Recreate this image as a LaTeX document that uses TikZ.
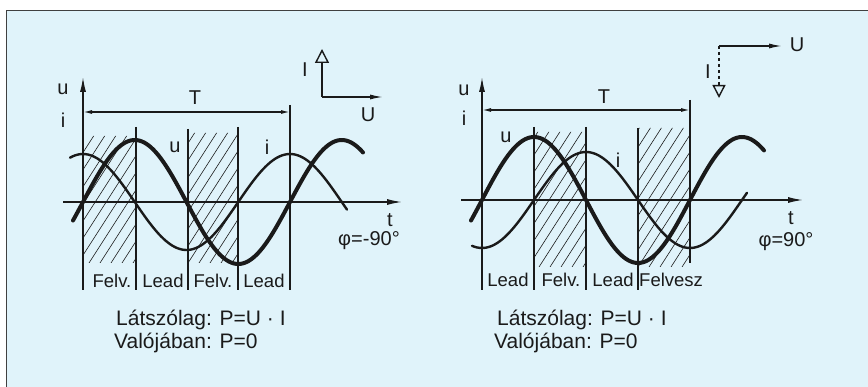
\documentclass[tikz,border=0pt]{standalone}
\usepackage{fontspec}
\setmainfont{Liberation Sans}
\usetikzlibrary{arrows.meta}
\definecolor{bgblue}{HTML}{E0F3FA}
\definecolor{ink}{HTML}{1A1A1A}

\begin{document}
\begin{tikzpicture}[x=1pt,y=-1pt,
  axis/.style={line width=1.9pt, draw=ink, -{Latex[length=16pt,width=6pt]}},
  ucurve/.style={line width=4pt, draw=ink, line cap=round},
  icurve/.style={line width=2.4pt, draw=ink, line cap=round},
  divider/.style={line width=1.2pt, draw=ink},
  hatch/.style={line width=0.6pt, draw=ink},
  dim/.style={line width=1.3pt, draw=ink, {Latex[length=9pt,width=4pt]}-{Latex[length=9pt,width=4pt]}},
  phasor/.style={line width=1.4pt, draw=ink},
  lbl/.style={font=\fontsize{20}{23}\selectfont, text=ink, inner sep=0pt},
  zone/.style={font=\fontsize{18.5}{21}\selectfont, text=ink, inner sep=0pt},
  note/.style={font=\fontsize{21}{24}\selectfont, text=ink, inner sep=0pt, anchor=west}
]
\useasboundingbox (0,0) rectangle (868,387);
\fill[bgblue] (6,10) rectangle (868,387);
\draw[line width=1.5pt, draw=black!75] (6.5,387) -- (6.5,10.5) -- (868,10.5);

% left panel, phi = -90
\begin{scope}
\clip (83,136) rectangle (136,263) (188,133) rectangle (238,263);
\foreach \k in {-10,1,...,240} \draw[hatch] (\k,263) -- ++(90,-140);
\end{scope}

\coordinate (oL) at (83,202);
\coordinate (yLb) at (83,290);
\coordinate (yLt) at (83,76);
\coordinate (tLa) at (63,202);
\coordinate (tLb) at (403,202);
\coordinate (TLa) at (83,112);
\coordinate (TLb) at (290,112);

\draw[divider] (136,127) -- (136,290);
\draw[divider] (188,129) -- (188,290);
\draw[divider] (238,127) -- (238,290);
\draw[divider] (290,105) -- (290,290);

\draw[icurve] plot[domain=70:347, samples=120] (\x,{202-48*cos((\x-83)/207*360)});
\draw[ucurve] plot[domain=73:363, samples=120] (\x,{202-62*sin((\x-83)/207*360)});

\draw[axis] (tLa) -- (tLb);
\draw[axis] (yLb) -- (yLt);
\draw[dim] (TLa) -- (TLb);

\node[lbl] (uL) at (63,89) {u};
\node[lbl] (iL) at (63,120) {i};
\node[lbl] (TL) at (195,98) {T};
\node[lbl] (uLc) at (175,147) {u};
\node[lbl] (iLc) at (267,147) {i};
\node[lbl] (tL) at (390,220) {t};
\node[lbl] (phiL) at (369,241) {φ=-90°};

\coordinate (pL) at (322,97);
\coordinate (pLu) at (383,97);
\coordinate (pLi) at (322,49);
\draw[phasor, -{Latex[length=13pt,width=5pt]}] (pL) -- (pLu);
\draw[phasor, -{Triangle[open,length=14pt,width=14pt]}] (pL) -- (pLi);
\node[lbl] (IL) at (305,70) {I};
\node[lbl] (UL) at (368,115) {U};

\node[zone] (zL1) at (112,281) {Felv.};
\node[zone] (zL2) at (163,281) {Lead};
\node[zone] (zL3) at (213,281) {Felv.};
\node[zone] (zL4) at (264,281) {Lead};

\node[note] (aL) at (116,320) {Látszólag: P=U · I};
\node[note] (bL) at (114,343) {Valójában: P=0};

% right panel, phi = 90
\begin{scope}
\clip (534,132) rectangle (586,267) (638,128) rectangle (690,267);
\foreach \k in {440,451,...,700} \draw[hatch] (\k,267) -- ++(90,-140);
\end{scope}

\coordinate (oR) at (482,200);
\coordinate (yRb) at (482,290);
\coordinate (yRt) at (482,76);
\coordinate (tRa) at (461,200);
\coordinate (tRb) at (804,200);
\coordinate (TRa) at (482,110);
\coordinate (TRb) at (690,110);

\draw[divider] (534,127) -- (534,290);
\draw[divider] (586,127) -- (586,290);
\draw[divider] (638,128) -- (638,290);
\draw[divider] (690,100) -- (690,263);

\draw[icurve] plot[domain=472:747, samples=120] (\x,{200+48*cos((\x-482)/208*360)});
\draw[ucurve] plot[domain=471:764, samples=120] (\x,{200-63*sin((\x-482)/208*360)});

\draw[axis] (tRa) -- (tRb);
\draw[axis] (yRb) -- (yRt);
\draw[dim] (TRa) -- (TRb);

\node[lbl] (uR) at (464,90) {u};
\node[lbl] (iR) at (464,118) {i};
\node[lbl] (TR) at (604,97) {T};
\node[lbl] (uRc) at (506,137) {u};
\node[lbl] (iRc) at (618,160) {i};
\node[lbl] (tR) at (791,218) {t};
\node[lbl] (phiR) at (786,242) {φ=90°};

\coordinate (pR) at (719,46);
\coordinate (pRu) at (782,46);
\coordinate (pRi) at (719,98);
\draw[phasor, -{Latex[length=13pt,width=5pt]}] (pR) -- (pRu);
\draw[phasor, dashed, -{Triangle[open,length=13pt,width=13pt]}] (pR) -- (pRi);
\node[lbl] (IR) at (708,72) {I};
\node[lbl] (UR) at (797,45) {U};

\node[zone] (zR1) at (508,280) {Lead};
\node[zone] (zR2) at (561,280) {Felv.};
\node[zone] (zR3) at (613,280) {Lead};
\node[zone, anchor=west] (zR4) at (639,280) {Felvesz};

\node[note] (aR) at (497,320) {Látszólag: P=U · I};
\node[note] (bR) at (494,343) {Valójában: P=0};
\end{tikzpicture}
\end{document}
